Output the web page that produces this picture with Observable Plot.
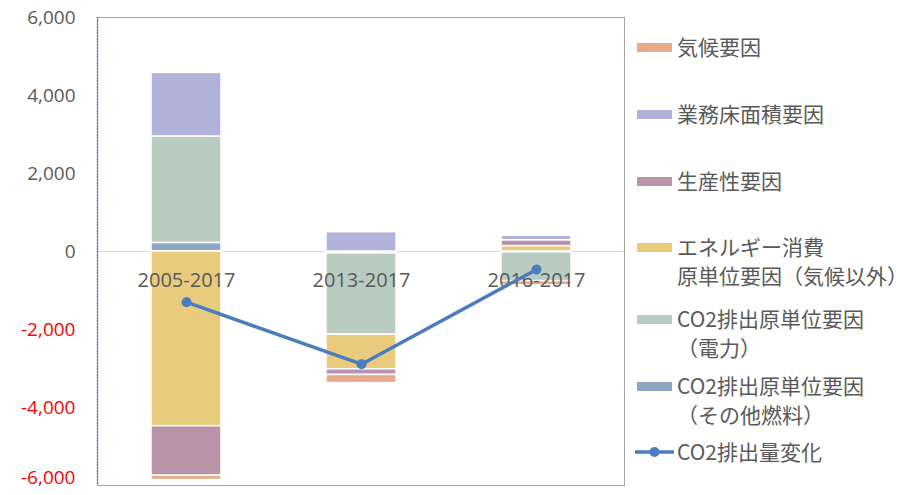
<!DOCTYPE html>
<html>
<head>
<meta charset="utf-8">
<script src="https://cdn.jsdelivr.net/npm/d3@7"></script>
<script src="https://cdn.jsdelivr.net/npm/@observablehq/plot@0.6"></script>
<style>
  html, body { margin: 0; padding: 0; background: #fff; }
  #wrap { position: relative; width: 917px; height: 495px; overflow: hidden; }
  #chart { position: absolute; left: 0; top: 0; }
  #legend { position: absolute; left: 0; top: 0; width: 917px; height: 495px; pointer-events: none;
    font-family: "Noto Sans CJK JP", "Noto Sans", sans-serif; font-size: 21px; color: #595959; }
  .item { position: absolute; left: 637px; display: flex; align-items: flex-start; }
  .sw { width: 35px; height: 9px; margin-top: 11px; flex: none; }
  .lbl { margin-left: 5px; line-height: 29px; white-space: pre; }
</style>
</head>
<body>
<div id="wrap">
  <div id="chart"></div>
  <div id="legend"></div>
</div>
<script>
// ---- data ----
const periods = ["2005-2017", "2013-2017", "2016-2017"];
const seriesNames = [
  "CO2排出原単位要因（その他燃料）",
  "CO2排出原単位要因（電力）",
  "エネルギー消費原単位要因（気候以外）",
  "生産性要因",
  "業務床面積要因",
  "気候要因"
];
const otherFuel    = [220, -50, -20];
const electricity  = [2730, -2080, -740];
const energyUnit   = [-4480, -890, 140];
const productivity = [-1270, -145, 150];
const floorArea    = [1630, 495, 115];
const climate      = [-110, -210, -105];
const co2Change    = [-1300, -2890, -460];
const yTicks = [-6000, -4000, -2000, 0, 2000, 4000, 6000];
const lineName = "CO2排出量変化";
const legendOrder = ["気候要因", "業務床面積要因", "生産性要因",
  "エネルギー消費原単位要因（気候以外）", "CO2排出原単位要因（電力）", "CO2排出原単位要因（その他燃料）"];
const legendLabels = ["気候要因", "業務床面積要因", "生産性要因",
  "エネルギー消費\n原単位要因（気候以外）", "CO2排出原単位要因\n（電力）", "CO2排出原単位要因\n（その他燃料）"];

// ---- style ----
const colors = ["#8EA6C1", "#B8CCC2", "#E8CB7D", "#B994A8", "#B0B2DA", "#E9AA8A"];
const lineColor = "#4A7DBE";
const textColor = "#595959";

const seriesValues = [otherFuel, electricity, energyUnit, productivity, floorArea, climate];
const rows = [];
seriesNames.forEach((s, i) => periods.forEach((p, j) => rows.push({period: p, series: s, value: seriesValues[i][j]})));
const lineRows = periods.map((p, j) => ({period: p, value: co2Change[j]}));

const fmt = d => (d < 0 ? "-" : "") + d3.format(",")(Math.abs(d));
const yMin = d3.min(yTicks);

const plot = Plot.plot({
  width: 630,
  height: 495,
  marginTop: 17,
  marginBottom: 10,
  marginLeft: 97,
  marginRight: 6,
  style: {fontFamily: "'Open Sans', 'Noto Sans', sans-serif", fontSize: "19px", color: textColor, background: "white", overflow: "visible"},
  x: {domain: periods, paddingInner: 0.6, paddingOuter: 0.3, axis: null},
  y: {domain: [yMin, d3.max(yTicks)], label: null},
  color: {domain: seriesNames, range: colors},
  marks: [
    Plot.ruleY([0], {stroke: "#D9D9D9", strokeWidth: 1}),
    Plot.barY(rows, Plot.stackY({order: seriesNames}, {x: "period", y: "value", z: "series", fill: "series", stroke: "white", strokeWidth: 1.5})),
    Plot.text(periods, {x: d => d, y: () => 0, dy: 29, text: d => d, fill: textColor, fontSize: 20}),
    Plot.line(lineRows, {x: "period", y: "value", stroke: lineColor, strokeWidth: 3.5}),
    Plot.dot(lineRows, {x: "period", y: "value", r: 5, fill: lineColor}),
    Plot.axisY(yTicks.filter(d => d >= 0), {tickSize: 0, tickPadding: 22, tickFormat: fmt, fill: textColor, fontSize: 19, label: null}),
    Plot.axisY(yTicks.filter(d => d < 0 && d > yMin), {tickSize: 0, tickPadding: 22, tickFormat: fmt, fill: "#FF0000", fontSize: 19, label: null}),
    Plot.axisY(yTicks.filter(d => d === yMin), {tickSize: 0, tickPadding: 22, tickFormat: fmt, fill: "#FF0000", fontSize: 19, label: null, dy: -8}),
    Plot.frame({stroke: "#A6A6A6", strokeWidth: 1})
  ]
});
// blue dashed left axis line
{
  const y = plot.scale("y");
  const svg = d3.select(plot);
  svg.append("line")
    .attr("x1", 97.5).attr("x2", 97.5)
    .attr("y1", y.apply(d3.max(yTicks))).attr("y2", y.apply(yMin))
    .attr("stroke", "#4472C4").attr("stroke-width", 1.3).attr("stroke-dasharray", "2,1");
}
document.getElementById("chart").appendChild(plot);

// ---- legend ----
const tops = [32, 99, 166, 232, 304, 371, 437];
const legend = document.getElementById("legend");
legendOrder.forEach((name, i) => {
  const it = document.createElement("div");
  it.className = "item";
  it.style.top = tops[i] + "px";
  const sw = document.createElement("div");
  sw.className = "sw";
  sw.style.background = colors[seriesNames.indexOf(name)];
  const lb = document.createElement("div");
  lb.className = "lbl";
  lb.textContent = legendLabels[i];
  it.appendChild(sw); it.appendChild(lb);
  legend.appendChild(it);
});
{
  const it = document.createElement("div");
  it.className = "item";
  it.style.top = tops[6] + "px";
  it.style.left = "635px";
  it.innerHTML = `<svg width="39" height="29" style="flex:none"><line x1="0" x2="39" y1="15" y2="15" stroke="${lineColor}" stroke-width="3.5"/><circle cx="19.5" cy="15" r="5" fill="${lineColor}"/></svg>`;
  const lb = document.createElement("div");
  lb.className = "lbl";
  lb.style.marginLeft = "3px";
  lb.textContent = lineName;
  it.appendChild(lb);
  legend.appendChild(it);
}
</script>
</body>
</html>
